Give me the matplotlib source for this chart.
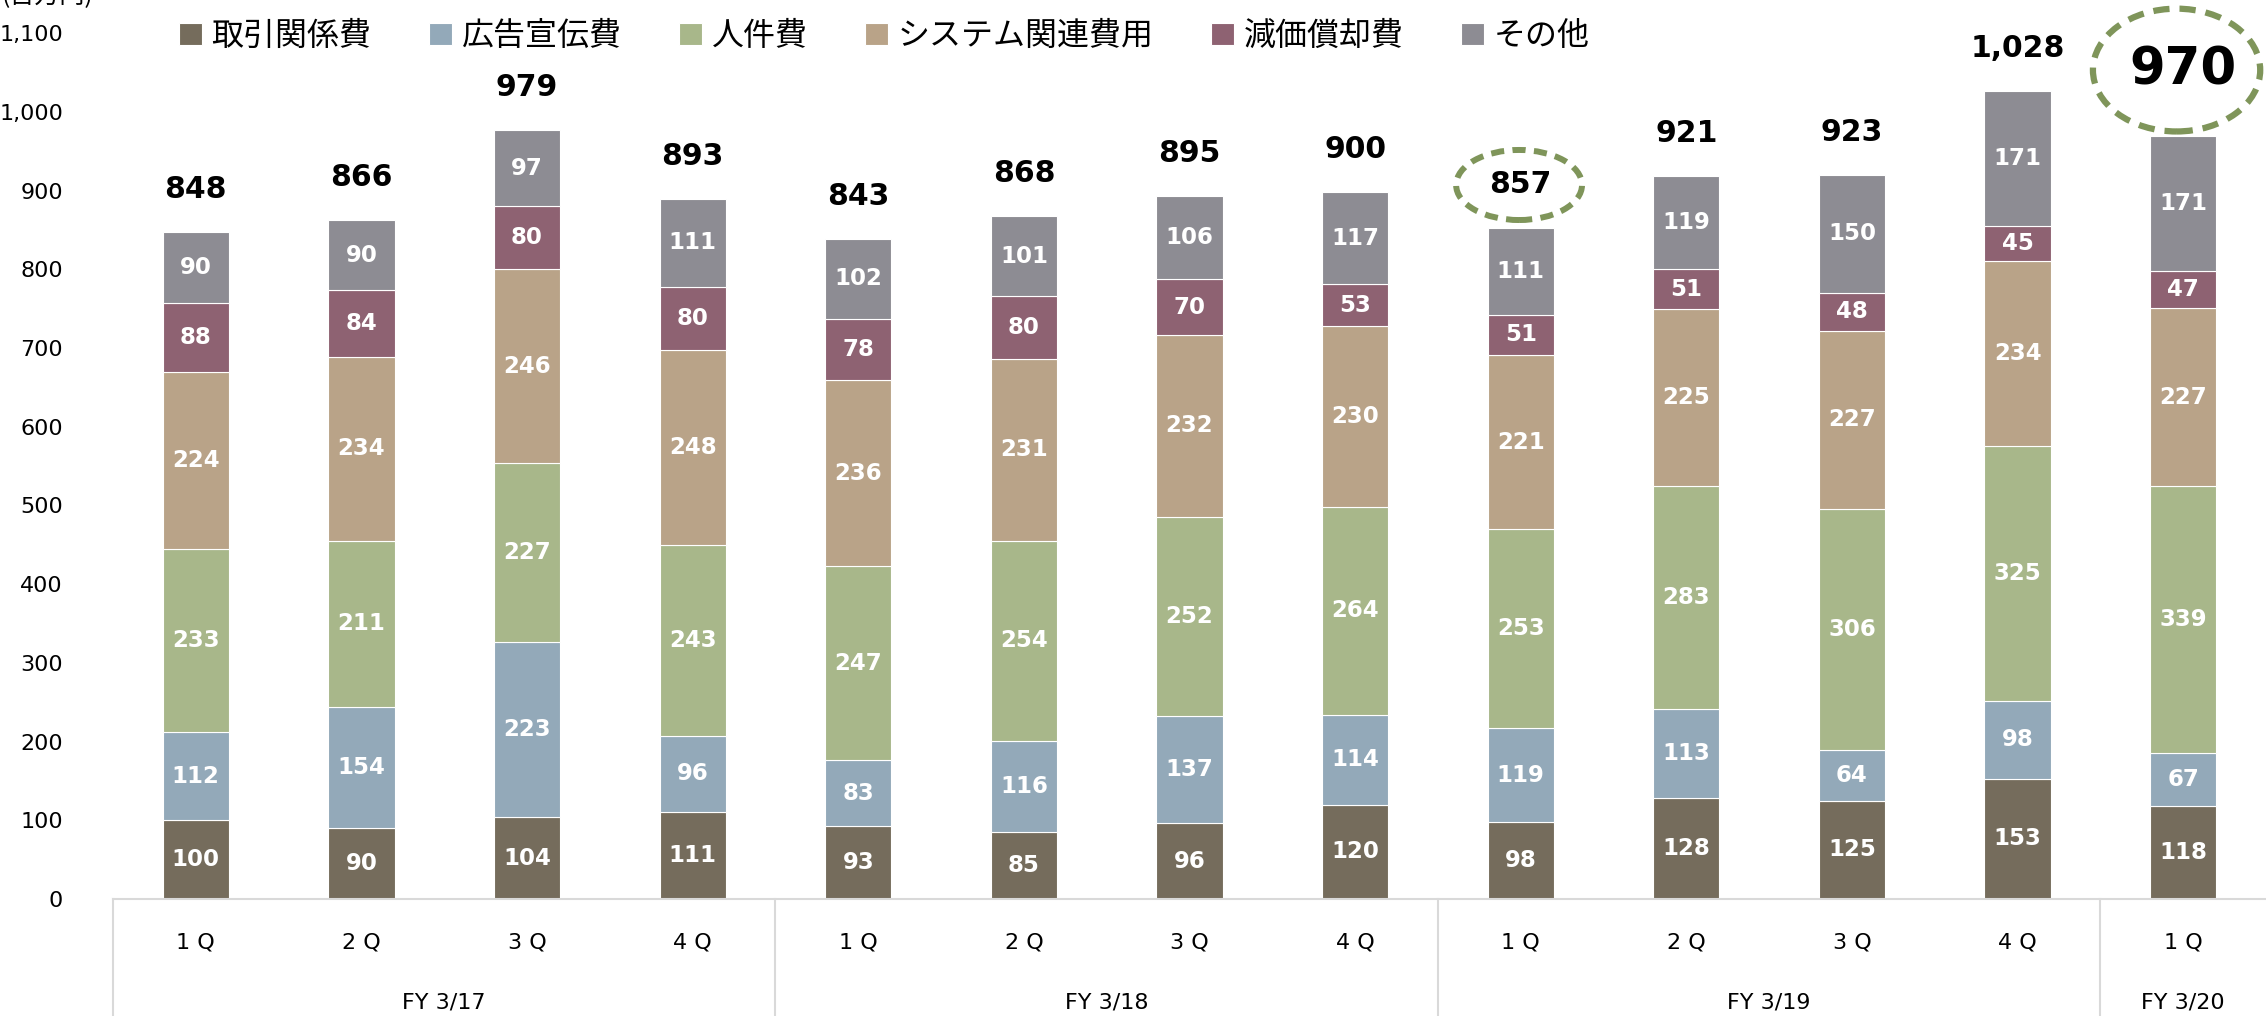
import matplotlib
matplotlib.use("Agg")
import matplotlib.pyplot as plt
from matplotlib.patches import Ellipse
import numpy as np

# データ
quarters = ["1 Q", "2 Q", "3 Q", "4 Q", "1 Q", "2 Q", "3 Q", "4 Q", "1 Q", "2 Q", "3 Q", "4 Q", "1 Q"]
years = ["FY 3/17", "FY 3/18", "FY 3/19", "FY 3/20"]
year_sizes = [4, 4, 4, 1]
series_names = ["取引関係費", "広告宣伝費", "人件費", "システム関連費用", "減価償却費", "その他"]
torihiki = [100, 90, 104, 111, 93, 85, 96, 120, 98, 128, 125, 153, 118]
koukoku = [112, 154, 223, 96, 83, 116, 137, 114, 119, 113, 64, 98, 67]
jinken = [233, 211, 227, 243, 247, 254, 252, 264, 253, 283, 306, 325, 339]
system = [224, 234, 246, 248, 236, 231, 232, 230, 221, 225, 227, 234, 227]
genka = [88, 84, 80, 80, 78, 80, 70, 53, 51, 51, 48, 45, 47]
sonota = [90, 90, 97, 111, 102, 101, 106, 117, 111, 119, 150, 171, 171]
totals = [848, 866, 979, 893, 843, 868, 895, 900, 857, 921, 923, 1028, 970]

colors = ["#756c5c", "#93a9b9", "#a8b78a", "#b9a388", "#8e6272", "#8d8c93"]
ring_color = "#7f955a"

W, H = 2266, 1016
fig = plt.figure(figsize=(W / 100, H / 100), dpi=100)
ax = fig.add_axes([113 / W, (H - 899) / H, (W - 113) / W, 899 / H])

x = np.arange(len(quarters))
bottom = np.zeros(len(x))
handles = []
for name, vals, c in zip(series_names, [torihiki, koukoku, jinken, system, genka, sonota], colors):
    vals = np.array(vals)
    b = ax.bar(x, vals, 0.4, bottom=bottom, color=c, edgecolor="white", linewidth=0.8, label=name)
    handles.append(b)
    for xi, v, bt in zip(x, vals, bottom):
        ax.text(xi, bt + v / 2, str(v), ha="center", va="center", color="white",
                fontsize=16.5, fontweight="bold")
    bottom = bottom + vals

# 合計ラベル（直近2本は丸で囲む）
for i, (xi, t, top) in enumerate(zip(x, totals, bottom)):
    lbl = f"{t:,}"
    if i == 12:
        ax.text(xi, top + 84, lbl, ha="center", va="center", fontsize=37, fontweight="bold")
        ax.add_patch(Ellipse((xi - 0.04, top + 84), 1.01, 156, fill=False, edgecolor=ring_color,
                             linewidth=4.5, linestyle=(0, (2.6, 1.6)), clip_on=False))
    elif i == 8:
        ax.text(xi, top + 54, lbl, ha="center", va="center", fontsize=21.5, fontweight="bold")
        ax.add_patch(Ellipse((xi - 0.01, top + 54), 0.76, 89, fill=False, edgecolor=ring_color,
                             linewidth=4.3, linestyle=(0, (2.2, 1.4)), clip_on=False))
    else:
        ax.text(xi, top + 54, lbl, ha="center", va="center", fontsize=21.5, fontweight="bold")

ax.set_xlim(-0.5, len(x) - 0.5)
ax.set_ylim(0, 1142)
ax.set_yticks(range(0, 1101, 100))
ax.set_yticklabels([f"{v:,}" for v in range(0, 1101, 100)], fontsize=16)
ax.tick_params(axis="y", length=0, pad=36)
ax.set_xticks(x)
ax.set_xticklabels(quarters, fontsize=16)
ax.tick_params(axis="x", length=0, pad=24)

for s in ["top", "right", "left"]:
    ax.spines[s].set_visible(False)
ax.spines["bottom"].set_color("#d9d9d9")
ax.spines["bottom"].set_linewidth(1.5)

# 年度の区切りとラベル
trans = ax.get_xaxis_transform()
start = 0
for yr, n in zip(years, year_sizes):
    ax.plot([start - 0.5, start - 0.5], [0, -0.14], transform=trans, color="#d9d9d9",
            linewidth=1.5, clip_on=False)
    ax.text(start + (n - 1) / 2, -0.1146, yr, transform=trans, ha="center", va="center", fontsize=16)
    start += n

# 単位（上端で切れている）
fig.text(2 / W, 1.004, "(百万円)", ha="left", va="center", fontsize=18,
         family=["Noto Sans CJK JP", "DejaVu Sans"])

fig.legend(handles=handles, loc="center left", bbox_to_anchor=(179 / W, 1 - 36 / H),
           ncol=6, frameon=False, borderpad=0, borderaxespad=0,
           prop={"family": ["Noto Sans CJK JP", "DejaVu Sans"], "size": 23},
           handlelength=0.72, handleheight=0.7, handletextpad=0.3, columnspacing=1.8)

fig.savefig("out.png", dpi=100)
